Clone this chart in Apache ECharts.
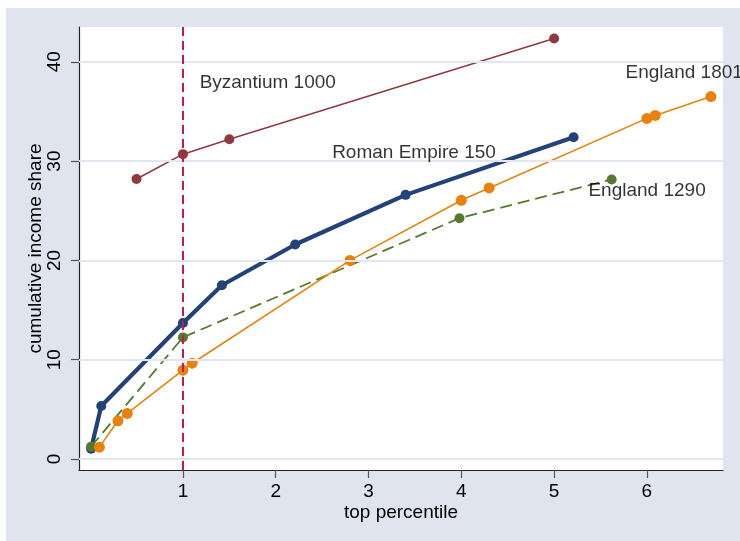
<!DOCTYPE html>
<html>
<head>
<meta charset="utf-8">
<script src="https://cdn.jsdelivr.net/npm/echarts@6/dist/echarts.min.js"></script>
<style>
html,body{margin:0;padding:0;background:#fff;}
#c{position:absolute;left:6px;top:8px;width:734px;height:533px;}
</style>
</head>
<body>
<div id="c"></div>
<script>
// Data (x = top percentile, y = cumulative income share)
var byzantium1000 = [[0.5, 28.2], [1.0, 30.7], [1.5, 32.2], [5.0, 42.35]];
var romanEmpire150 = [[0.01, 1.05], [0.12, 5.35], [1.0, 13.7], [1.42, 17.5], [2.21, 21.6], [3.4, 26.6], [5.21, 32.4]];
var england1290 = [[0.01, 1.25], [1.0, 12.25], [3.98, 24.25], [5.62, 28.15]];
var england1801 = [[0.1, 1.2], [0.3, 3.85], [0.4, 4.6], [1.0, 8.95], [1.1, 9.65], [2.8, 20.0], [4.0, 26.05], [4.3, 27.3], [6.0, 34.3], [6.09, 34.6], [6.69, 36.5]];
var xTicks = [1, 2, 3, 4, 5, 6];
var yTicks = [0, 10, 20, 30, 40];
var refLineX = 1;
// Series name labels anchored in data space
var labelNames = ['Byzantium 1000', 'Roman Empire 150', 'England 1801', 'England 1290'];
var labelAnchors = [[1.18, 37.9], [3.49, 30.8], [5.77, 38.9], [5.37, 27.0]];
var labelAlign = ['left', 'center', 'left', 'left'];

var FONT = '"Liberation Sans", Arial, Helvetica, sans-serif';
var colors = {byz: '#903a3f', rom: '#22437a', e1290: '#557a2f', e1801: '#e8820c'};

var chart = echarts.init(document.getElementById('c'), null, {renderer: 'canvas'});

var labelData = labelNames.map(function (n, i) {
  return {value: labelAnchors[i], name: n, label: {align: labelAlign[i]}};
});

var option = {
  backgroundColor: '#dfe4ef',
  animation: false,
  textStyle: {fontFamily: FONT},
  grid: {left: 73, top: 19, right: 17, bottom: 71, show: true, backgroundColor: '#ffffff', borderWidth: 0},
  xAxis: {
    type: 'value', min: -0.12, max: 6.82,
    name: 'top percentile', nameLocation: 'middle', nameGap: 33, nameMoveOverlap: false,
    nameTextStyle: {fontSize: 19, color: '#000', fontFamily: FONT},
    axisLine: {onZero: false, lineStyle: {color: '#222', width: 1.2}},
    axisTick: {show: true, length: 8, customValues: xTicks, lineStyle: {color: '#555', width: 1.2}},
    axisLabel: {customValues: xTicks, fontSize: 19, color: '#000', margin: 12, fontFamily: FONT},
    splitLine: {show: false}
  },
  yAxis: {
    type: 'value', min: -1.1, max: 43.5,
    name: 'cumulative income share', nameLocation: 'middle', nameGap: 34, nameMoveOverlap: false,
    nameTextStyle: {fontSize: 19, color: '#000', fontFamily: FONT},
    axisLine: {show: true, onZero: false, lineStyle: {color: '#222', width: 1.2}},
    axisTick: {show: true, length: 8, customValues: yTicks, lineStyle: {color: '#555', width: 1.2}},
    axisLabel: {customValues: yTicks, fontSize: 19, color: '#000', rotate: 90, margin: 15, fontFamily: FONT},
    splitLine: {show: false}
  },
  series: [
    {
      type: 'line', data: [], z: 1, silent: true,
      markLine: {
        silent: true, symbol: 'none', animation: false,
        label: {show: false},
        lineStyle: {color: '#e1e6f1', width: 2, type: 'solid'},
        data: yTicks.map(function (v) { return {yAxis: v}; })
      }
    },
    {
      name: 'Byzantium 1000', type: 'line', data: byzantium1000, z: 3,
      symbol: 'circle', symbolSize: 10,
      itemStyle: {color: colors.byz}, lineStyle: {color: colors.byz, width: 1.6}
    },
    {
      name: 'Roman Empire 150', type: 'line', data: romanEmpire150, z: 3,
      symbol: 'circle', symbolSize: 10,
      itemStyle: {color: colors.rom}, lineStyle: {color: colors.rom, width: 4.2}
    },
    {
      name: 'England 1290', type: 'line', data: england1290, z: 4,
      symbol: 'circle', symbolSize: 10,
      itemStyle: {color: colors.e1290}, lineStyle: {color: colors.e1290, width: 1.8, type: [12, 6]}
    },
    {
      name: 'England 1801', type: 'line', data: england1801, z: 4,
      symbol: 'circle', symbolSize: 11,
      itemStyle: {color: colors.e1801}, lineStyle: {color: colors.e1801, width: 1.6}
    },
    {
      type: 'line', data: [], z: 5, silent: true,
      markLine: {
        silent: true, symbol: 'none', animation: false,
        label: {show: false},
        lineStyle: {color: '#c41a4b', width: 2, type: [9, 5]},
        data: [{xAxis: refLineX}]
      }
    },
    {
      type: 'scatter', data: labelData, symbolSize: 0, z: 6, silent: true,
      label: {show: true, position: 'inside', formatter: '{b}', fontSize: 19, color: '#000', fontFamily: FONT, verticalAlign: 'middle'}
    }
  ]
};
chart.setOption(option);
</script>
</body>
</html>
